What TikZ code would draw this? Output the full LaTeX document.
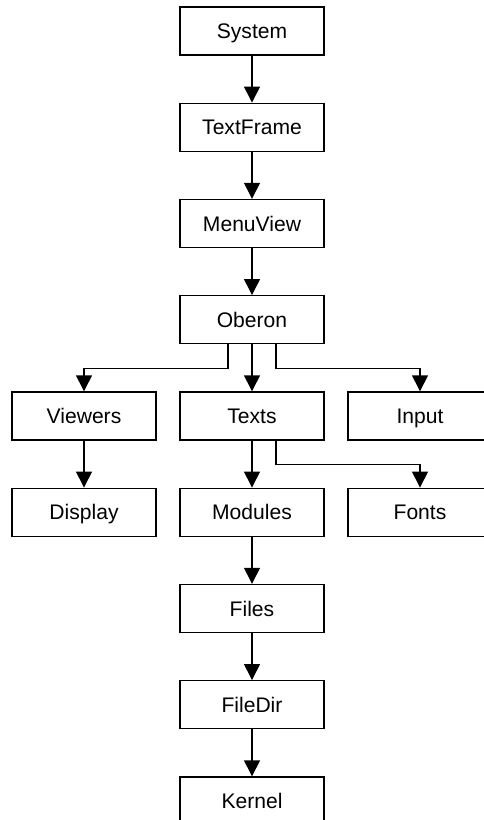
\documentclass[tikz,border=0pt]{standalone}
\usepackage{fontspec}
\setmainfont{Liberation Sans}
\usetikzlibrary{arrows.meta}
\begin{document}
\begin{tikzpicture}[
    modbox/.style={draw,line width=0.8pt,minimum width=2.88cm,minimum height=0.96cm,
      inner sep=0pt,text height=8.6pt,text depth=0pt,font=\fontsize{12}{14}\selectfont},
    uses/.style={line width=0.8pt,-{Triangle[width=0.32cm,length=0.32cm]}}]
    \useasboundingbox (0,0) rectangle (9.66,-16.4);

    \node[modbox] (system) at (5.04,-0.62) {System};
    \node[modbox] (textframe) at (5.04,-2.545) {TextFrame};
    \node[modbox] (menuview) at (5.04,-4.47) {MenuView};
    \node[modbox] (oberon) at (5.04,-6.395) {Oberon};
    \node[modbox] (viewers) at (1.68,-8.32) {Viewers};
    \node[modbox] (texts) at (5.04,-8.32) {Texts};
    \node[modbox] (input) at (8.4,-8.32) {Input};
    \node[modbox] (display) at (1.68,-10.245) {Display};
    \node[modbox] (modules) at (5.04,-10.245) {Modules};
    \node[modbox] (fonts) at (8.4,-10.245) {Fonts};
    \node[modbox] (files) at (5.04,-12.17) {Files};
    \node[modbox] (filedir) at (5.04,-14.095) {FileDir};
    \node[modbox] (kernel) at (5.04,-16.02) {Kernel};

    \draw[uses] (system) -- (textframe);
    \draw[uses] (textframe) -- (menuview);
    \draw[uses] (menuview) -- (oberon);
    \draw[uses] ([xshift=-0.48cm]oberon.south) -- ++(0,-0.48) -| (viewers.north);
    \draw[uses] (oberon) -- (texts);
    \draw[uses] ([xshift=0.48cm]oberon.south) -- ++(0,-0.48) -| (input.north);
    \draw[uses] (viewers) -- (display);
    \draw[uses] (texts) -- (modules);
    \draw[uses] ([xshift=0.48cm]texts.south) -- ++(0,-0.48) -| (fonts.north);
    \draw[uses] (modules) -- (files);
    \draw[uses] (files) -- (filedir);
    \draw[uses] (filedir) -- (kernel);
  \end{tikzpicture}
\end{document}
